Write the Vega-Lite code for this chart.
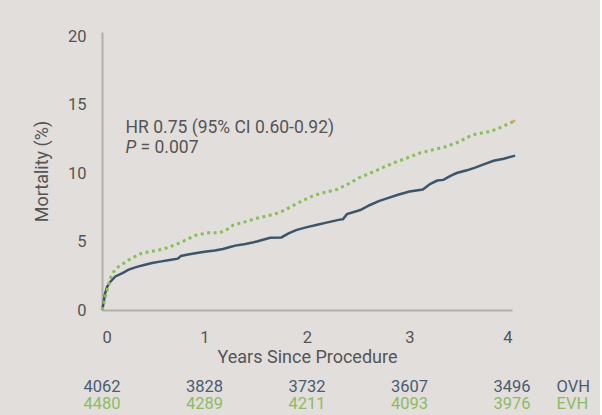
{
  "$schema": "https://vega.github.io/schema/vega-lite/v6.json",
  "autosize": {"type": "pad"},
  "padding": {"left": 33, "top": 28, "right": 10, "bottom": 5},
  "background": "#e2dedc",
  "spacing": 11,
  "config": {
    "font": "Roboto",
    "view": {"stroke": null},
    "axis": {
      "domainColor": "#b6aca6",
      "domainWidth": 2,
      "ticks": false,
      "tickSize": 0,
      "grid": false,
      "labelColor": "#555555",
      "titleColor": "#555555",
      "labelFont": "Roboto",
      "titleFont": "Roboto",
      "labelFontSize": 16.5,
      "titleFontSize": 18,
      "titleFontWeight": "normal"
    }
  },
  "datasets": {
    "curves": [
      {"group": "OVH", "year": 0.00, "mortality": 0.0},
      {"group": "OVH", "year": 0.01, "mortality": 0.3},
      {"group": "OVH", "year": 0.03, "mortality": 1.2},
      {"group": "OVH", "year": 0.05, "mortality": 1.7},
      {"group": "OVH", "year": 0.08, "mortality": 2.05},
      {"group": "OVH", "year": 0.13, "mortality": 2.45},
      {"group": "OVH", "year": 0.20, "mortality": 2.7},
      {"group": "OVH", "year": 0.26, "mortality": 2.95},
      {"group": "OVH", "year": 0.34, "mortality": 3.15},
      {"group": "OVH", "year": 0.42, "mortality": 3.3},
      {"group": "OVH", "year": 0.50, "mortality": 3.45},
      {"group": "OVH", "year": 0.58, "mortality": 3.55},
      {"group": "OVH", "year": 0.66, "mortality": 3.65},
      {"group": "OVH", "year": 0.74, "mortality": 3.75},
      {"group": "OVH", "year": 0.77, "mortality": 3.95},
      {"group": "OVH", "year": 0.84, "mortality": 4.05},
      {"group": "OVH", "year": 0.91, "mortality": 4.15},
      {"group": "OVH", "year": 1.00, "mortality": 4.25},
      {"group": "OVH", "year": 1.10, "mortality": 4.35},
      {"group": "OVH", "year": 1.18, "mortality": 4.45},
      {"group": "OVH", "year": 1.25, "mortality": 4.6},
      {"group": "OVH", "year": 1.30, "mortality": 4.7},
      {"group": "OVH", "year": 1.40, "mortality": 4.82},
      {"group": "OVH", "year": 1.51, "mortality": 5.0},
      {"group": "OVH", "year": 1.58, "mortality": 5.15},
      {"group": "OVH", "year": 1.64, "mortality": 5.27},
      {"group": "OVH", "year": 1.75, "mortality": 5.3},
      {"group": "OVH", "year": 1.82, "mortality": 5.6},
      {"group": "OVH", "year": 1.90, "mortality": 5.85},
      {"group": "OVH", "year": 2.00, "mortality": 6.05},
      {"group": "OVH", "year": 2.09, "mortality": 6.2},
      {"group": "OVH", "year": 2.20, "mortality": 6.4},
      {"group": "OVH", "year": 2.32, "mortality": 6.6},
      {"group": "OVH", "year": 2.35, "mortality": 6.62},
      {"group": "OVH", "year": 2.39, "mortality": 7.0},
      {"group": "OVH", "year": 2.52, "mortality": 7.3},
      {"group": "OVH", "year": 2.61, "mortality": 7.65},
      {"group": "OVH", "year": 2.70, "mortality": 7.95},
      {"group": "OVH", "year": 2.78, "mortality": 8.15},
      {"group": "OVH", "year": 2.88, "mortality": 8.4},
      {"group": "OVH", "year": 3.00, "mortality": 8.65},
      {"group": "OVH", "year": 3.13, "mortality": 8.8},
      {"group": "OVH", "year": 3.20, "mortality": 9.2},
      {"group": "OVH", "year": 3.27, "mortality": 9.45},
      {"group": "OVH", "year": 3.33, "mortality": 9.5},
      {"group": "OVH", "year": 3.40, "mortality": 9.8},
      {"group": "OVH", "year": 3.46, "mortality": 10.0},
      {"group": "OVH", "year": 3.56, "mortality": 10.2},
      {"group": "OVH", "year": 3.64, "mortality": 10.4},
      {"group": "OVH", "year": 3.73, "mortality": 10.65},
      {"group": "OVH", "year": 3.82, "mortality": 10.9},
      {"group": "OVH", "year": 3.92, "mortality": 11.05},
      {"group": "OVH", "year": 4.03, "mortality": 11.27},
      {"group": "EVH", "year": 0.00, "mortality": 0.0},
      {"group": "EVH", "year": 0.01, "mortality": 0.2},
      {"group": "EVH", "year": 0.03, "mortality": 0.9},
      {"group": "EVH", "year": 0.05, "mortality": 1.45},
      {"group": "EVH", "year": 0.08, "mortality": 2.3},
      {"group": "EVH", "year": 0.11, "mortality": 2.75},
      {"group": "EVH", "year": 0.14, "mortality": 3.05},
      {"group": "EVH", "year": 0.20, "mortality": 3.35},
      {"group": "EVH", "year": 0.26, "mortality": 3.65},
      {"group": "EVH", "year": 0.32, "mortality": 3.9},
      {"group": "EVH", "year": 0.39, "mortality": 4.15},
      {"group": "EVH", "year": 0.46, "mortality": 4.25},
      {"group": "EVH", "year": 0.53, "mortality": 4.35},
      {"group": "EVH", "year": 0.60, "mortality": 4.45},
      {"group": "EVH", "year": 0.71, "mortality": 4.75},
      {"group": "EVH", "year": 0.80, "mortality": 5.05},
      {"group": "EVH", "year": 0.91, "mortality": 5.45},
      {"group": "EVH", "year": 1.04, "mortality": 5.65},
      {"group": "EVH", "year": 1.15, "mortality": 5.65},
      {"group": "EVH", "year": 1.22, "mortality": 5.88},
      {"group": "EVH", "year": 1.28, "mortality": 6.2},
      {"group": "EVH", "year": 1.40, "mortality": 6.45},
      {"group": "EVH", "year": 1.51, "mortality": 6.7},
      {"group": "EVH", "year": 1.60, "mortality": 6.85},
      {"group": "EVH", "year": 1.70, "mortality": 7.05},
      {"group": "EVH", "year": 1.77, "mortality": 7.25},
      {"group": "EVH", "year": 1.87, "mortality": 7.65},
      {"group": "EVH", "year": 1.96, "mortality": 8.0},
      {"group": "EVH", "year": 2.06, "mortality": 8.35},
      {"group": "EVH", "year": 2.18, "mortality": 8.6},
      {"group": "EVH", "year": 2.29, "mortality": 8.8},
      {"group": "EVH", "year": 2.39, "mortality": 9.15},
      {"group": "EVH", "year": 2.52, "mortality": 9.7},
      {"group": "EVH", "year": 2.60, "mortality": 9.94},
      {"group": "EVH", "year": 2.72, "mortality": 10.33},
      {"group": "EVH", "year": 2.84, "mortality": 10.73},
      {"group": "EVH", "year": 2.97, "mortality": 11.08},
      {"group": "EVH", "year": 3.09, "mortality": 11.44},
      {"group": "EVH", "year": 3.22, "mortality": 11.68},
      {"group": "EVH", "year": 3.36, "mortality": 11.94},
      {"group": "EVH", "year": 3.49, "mortality": 12.3},
      {"group": "EVH", "year": 3.56, "mortality": 12.6},
      {"group": "EVH", "year": 3.64, "mortality": 12.83},
      {"group": "EVH", "year": 3.77, "mortality": 13.02},
      {"group": "EVH", "year": 3.85, "mortality": 13.2},
      {"group": "EVH", "year": 3.92, "mortality": 13.44},
      {"group": "EVH", "year": 4.01, "mortality": 13.76}
    ],
    "endpoint": [
      {"year": 4.02, "mortality": 13.8}
    ],
    "notes": [
      {"year": 0.23, "mortality": 13.3, "label": "HR 0.75 (95% CI 0.60-0.92)"}
    ],
    "pvalue": [
      {"year": 0.23, "mortality": 11.85, "letter": "P", "rest": "= 0.007"}
    ],
    "risk": [
      {"group": "OVH", "year": 0, "n": 4062},
      {"group": "OVH", "year": 1, "n": 3828},
      {"group": "OVH", "year": 2, "n": 3732},
      {"group": "OVH", "year": 3, "n": 3607},
      {"group": "OVH", "year": 4, "n": 3496},
      {"group": "EVH", "year": 0, "n": 4480},
      {"group": "EVH", "year": 1, "n": 4289},
      {"group": "EVH", "year": 2, "n": 4211},
      {"group": "EVH", "year": 3, "n": 4093},
      {"group": "EVH", "year": 4, "n": 3976}
    ]
  },
  "vconcat": [
    {
      "width": 410,
      "height": 278,
      "encoding": {
        "x": {
          "field": "year",
          "type": "quantitative",
          "scale": {"domain": [0, 4], "nice": false},
          "axis": {"title": "Years Since Procedure", "values": [0, 1, 2, 3, 4], "format": "d", "labelPadding": 19, "titlePadding": 3}
        },
        "y": {
          "field": "mortality",
          "type": "quantitative",
          "scale": {"domain": [0, 20.3], "nice": false},
          "axis": {"title": "Mortality (%)", "values": [0, 5, 10, 15, 20], "labelPadding": 16, "titlePadding": 16}
        }
      },
      "layer": [
        {
          "data": {"name": "curves"},
          "transform": [{"filter": "datum.group === 'OVH'"}],
          "mark": {"type": "line", "color": "#3d5569", "strokeWidth": 2.5, "clip": false}
        },
        {
          "data": {"name": "curves"},
          "transform": [{"filter": "datum.group === 'EVH'"}],
          "mark": {"type": "line", "color": "#8bbd5c", "strokeWidth": 3, "strokeDash": [3, 3.5], "clip": false}
        },
        {
          "data": {"name": "endpoint"},
          "mark": {"type": "square", "color": "#f0a040", "size": 6, "opacity": 1}
        },
        {
          "data": {"name": "notes"},
          "mark": {"type": "text", "align": "left", "baseline": "middle", "fontSize": 17.5, "color": "#555555"},
          "encoding": {"text": {"field": "label"}}
        },
        {
          "data": {"name": "pvalue"},
          "mark": {"type": "text", "align": "left", "baseline": "middle", "fontSize": 17.5, "fontStyle": "italic", "color": "#555555"},
          "encoding": {"text": {"field": "letter"}}
        },
        {
          "data": {"name": "pvalue"},
          "mark": {"type": "text", "align": "left", "baseline": "middle", "fontSize": 17.5, "dx": 15, "color": "#555555"},
          "encoding": {"text": {"field": "rest"}}
        }
      ]
    },
    {
      "width": 410,
      "height": 34,
      "data": {"name": "risk"},
      "mark": {"type": "text", "fontSize": 16.5, "baseline": "middle", "align": "center"},
      "encoding": {
        "x": {"field": "year", "type": "quantitative", "scale": {"domain": [0, 4], "nice": false}, "axis": null},
        "y": {
          "field": "group",
          "type": "nominal",
          "scale": {"domain": ["OVH", "EVH"], "paddingInner": 0, "paddingOuter": 0},
          "axis": {
            "orient": "right",
            "title": null,
            "domain": false,
            "labelPadding": 44,
            "labelFontSize": 16.5,
            "labelColor": {"condition": {"test": "datum.value === 'OVH'", "value": "#4b5c6e"}, "value": "#8dbb63"}
          }
        },
        "text": {"field": "n", "type": "quantitative"},
        "color": {"field": "group", "type": "nominal", "scale": {"domain": ["OVH", "EVH"], "range": ["#4b5c6e", "#8dbb63"]}, "legend": null}
      }
    }
  ]
}
